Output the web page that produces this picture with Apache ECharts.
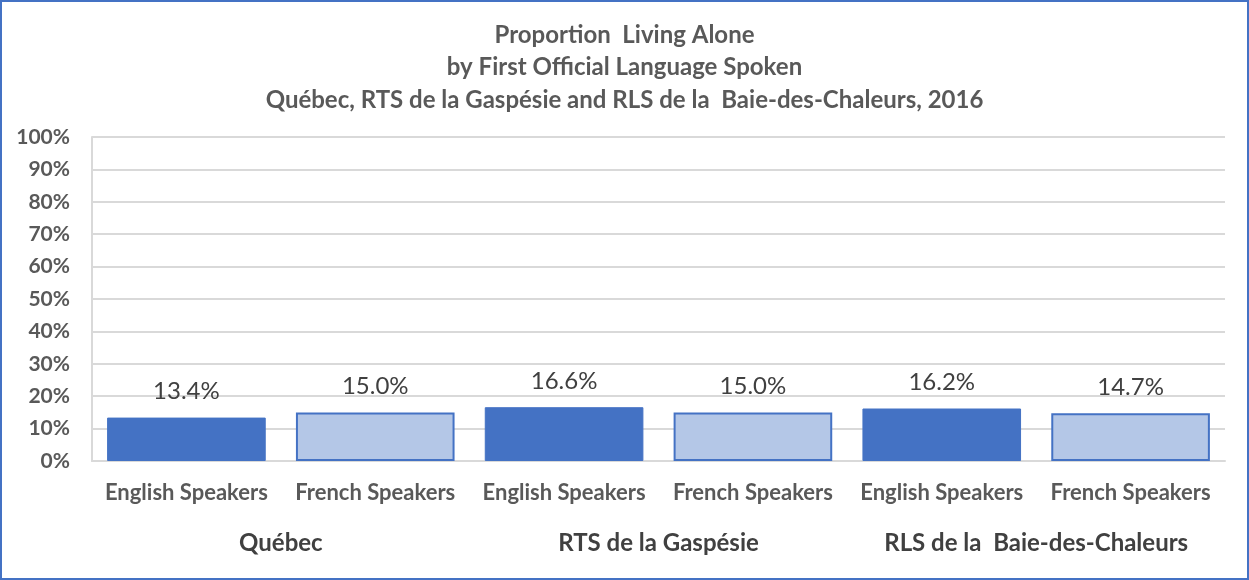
<!DOCTYPE html>
<html>
<head>
<meta charset="utf-8">
<script src="https://cdn.jsdelivr.net/npm/echarts@6/dist/echarts.min.js"></script>
<style>
html,body{margin:0;padding:0;background:#fff;}
#wrap{width:1249px;height:580px;box-sizing:border-box;border:2px solid #4472C4;position:relative;}
#chart{position:absolute;left:-2px;top:-2px;width:1249px;height:580px;}
</style>
</head>
<body>
<div id="wrap"><div id="chart"></div></div>
<script>
const titleLines = ["Proportion  Living Alone", "by First Official Language Spoken", "Québec, RTS de la Gaspésie and RLS de la  Baie-des-Chaleurs, 2016"];
const subCategories = ["English Speakers", "French Speakers", "English Speakers", "French Speakers", "English Speakers", "French Speakers"];
const groups = ["Québec", "RTS de la Gaspésie", "RLS de la  Baie-des-Chaleurs"];
const values = [13.4, 15.0, 16.6, 15.0, 16.2, 14.7];
const yTicks = [0, 10, 20, 30, 40, 50, 60, 70, 80, 90, 100];

const FONT = "Lato, 'Open Sans', sans-serif";
const chart = echarts.init(document.getElementById('chart'));
const darkBlue = '#4472C4', lightBlue = '#B4C7E7';

chart.setOption({
  animation: false,
  textStyle: {fontFamily: FONT},
  title: {
    text: titleLines.join('\n'),
    left: 'center', top: 14,
    textStyle: {fontFamily: FONT, fontSize: 24, fontWeight: 'bold', color: '#595959', lineHeight: 32.5}
  },
  grid: {left: 92, right: 24, top: 137, bottom: 119, containLabel: false},
  xAxis: [{
    type: 'category', data: subCategories, position: 'bottom',
    axisLine: {lineStyle: {color: '#d9d9d9', width: 2}},
    axisTick: {show: false},
    axisLabel: {fontFamily: FONT, fontSize: 22, fontWeight: 'bold', color: '#595959', margin: 21, interval: 0}
  }, {
    type: 'category', data: groups, position: 'bottom',
    axisLine: {show: false}, axisTick: {show: false},
    axisLabel: {fontFamily: FONT, fontSize: 24, fontWeight: 'bold', color: '#404040', margin: 70, interval: 0}
  }],
  yAxis: {
    type: 'value', min: yTicks[0], max: yTicks[yTicks.length - 1], interval: 10,
    axisLine: {show: true, lineStyle: {color: '#d9d9d9', width: 2}},
    axisTick: {show: false},
    splitLine: {lineStyle: {color: '#d9d9d9', width: 2}},
    axisLabel: {formatter: '{value}%', fontFamily: FONT, fontSize: 21, fontWeight: 'bold', color: '#595959', margin: 22}
  },
  series: [{
    type: 'bar', xAxisIndex: 0,
    barCategoryGap: '16%',
    data: values.map((v, i) => ({
      value: v,
      itemStyle: i % 2 === 0
        ? {color: darkBlue, borderColor: darkBlue, borderWidth: 1}
        : {color: lightBlue, borderColor: darkBlue, borderWidth: 2}
    })),
    label: {
      show: true, position: 'top', distance: 14,
      formatter: p => p.value.toFixed(1) + '%',
      fontFamily: FONT, fontSize: 24, color: '#404040'
    }
  }, {
    type: 'bar', xAxisIndex: 1, data: []
  }]
});
</script>
</body>
</html>
